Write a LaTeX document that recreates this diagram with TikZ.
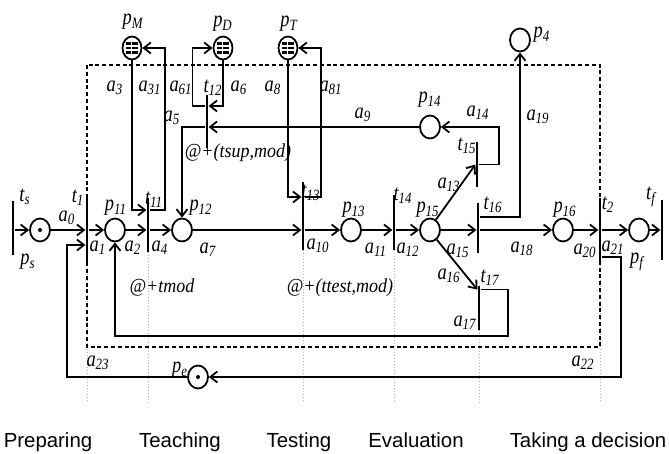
\documentclass[tikz,border=0pt]{standalone}
\usepackage{fontspec}
\setmainfont{Liberation Serif}
\newfontfamily\phasefont{Liberation Sans}
\usepackage{tikz}
\usetikzlibrary{arrows.meta,calc,positioning,shapes.geometric}
\newcommand{\nm}[2]{\scalebox{0.92}[1.12]{#1\textsubscript{#2}}}
\tikzset{
  place/.style={draw, line width=0.9pt, ellipse, minimum width=10pt, minimum height=11.5pt, inner sep=0pt},
  token/.style={place, path picture={\fill (path picture bounding box.center) circle (1pt);}},
  res/.style={place, minimum width=9.5pt, path picture={
      \foreach \dy in {-2.3pt,0pt,2.3pt}
        \draw[line width=1.2pt, dash pattern=on 2.6pt off 0.5pt]
          ([xshift=-2.9pt,yshift=\dy]path picture bounding box.center) -- ++(5.8pt,0);}},
  trans/.style={fill=black, inner sep=0pt, minimum width=1.2pt, minimum height=#1},
  arc/.style={line width=0.9pt, -{Straight Barb[length=3.5pt,width=5.5pt,line width=0.9pt]}},
  lab/.style={font=\fontsize{10}{11}\selectfont\itshape, inner sep=0.5pt},
  delay/.style={font=\fontsize{9}{10}\selectfont\itshape, inner sep=0.5pt, yscale=1.1},
  phase/.style={font=\phasefont\fontsize{10.2}{12}\selectfont, anchor=base, inner sep=0pt},
  guide/.style={gray!60, densely dotted, line width=0.5pt},
}

\begin{document}
\begin{tikzpicture}[x=0.5pt, y=-0.5pt]
    \useasboundingbox (0,0) rectangle (669,454);

    % Transitions
    \node[trans=27pt]   (ts)  at (13,228) {};
    \node[trans=33.5pt] (t1)  at (87,228.5) {};
    \node[trans=27pt]   (t11) at (148,225) {};
    \node[trans=26.5pt] (t12) at (207,121.5) {};
    \node[trans=34pt]   (t13) at (303,216) {};
    \node[trans=27.5pt] (t14) at (394,222.5) {};
    \node[trans=22.5pt] (t15) at (477,164.5) {};
    \node[trans=25pt]   (t16) at (478,228) {};
    \node[trans=22pt]   (t17) at (479,308) {};
    \node[trans=32pt]   (t2)  at (600,230) {};
    \node[trans=30pt]   (tf)  at (662,230) {};

    % Places
    \node[token] (ps)  at (40,230) {};
    \node[place] (p11) at (115,230) {};
    \node[place] (p12) at (182,230) {};
    \node[place] (p13) at (351,230) {};
    \node[place] (p15) at (430,230) {};
    \node[place] (p16) at (563,230) {};
    \node[place] (pf)  at (639,230) {};
    \node[place] (p14) at (430,127) {};
    \node[place] (p4)  at (520,40) {};
    \node[token] (pe)  at (198,377) {};
    \node[res]   (pM)  at (132,48) {};
    \node[res]   (pD)  at (223,48) {};
    \node[res]   (pT)  at (288,48) {};

    % Phase guides and module border
    \coordinate (base) at (0,403);
    \foreach \t in {t1,t11,t13,t14,t17,t2}
        \draw[guide] (\t.south) -- (\t.south |- base);
    \draw[dash pattern=on 2pt off 1.4pt, line width=0.8pt] (87,65) rectangle (600,347);

    % Main flow
    \draw[arc] (ps -| ts.east) -- (ps.west);
    \draw[arc] (ps.east) -- (ps -| t1.west);
    \draw[arc] (p11 -| t1.east) -- (p11.west);
    \draw[arc] (p11.east) -- (p11 -| t11.west);
    \draw[arc] (p12 -| t11.east) -- (p12.west);
    \draw[arc] (p12.east) -- (p12 -| t13.west);
    \draw[arc] (p13 -| t13.east) -- (p13.west);
    \draw[arc] (p13.east) -- (p13 -| t14.west);
    \draw[arc] (p15 -| t14.east) -- (p15.west);
    \draw[arc] (p15.east) -- (p15 -| t16.west);
    \draw[arc] (p16 -| t16.east) -- (p16.west);
    \draw[arc] (p16.east) -- (p16 -| t2.west);
    \draw[arc] (pf -| t2.east) -- (pf.west);
    \draw[arc] (pf.east) -- (pf -| tf.west);

    % Resource loops
    \draw[arc] (pM.south) |- ([yshift=7.5pt]t11.west);
    \draw[arc] ([yshift=7.5pt]t11.east) -- ++(7.5pt,0) |- (pM.east);
    \draw[arc] (pD.south) |- ([yshift=7.75pt]t12.east);
    \draw[arc] ([yshift=7.75pt]t12.west) -- ++(-6.5pt,0) |- (pD.west);
    \draw[arc] (pT.south) |- ([yshift=9.5pt]t13.west);
    \draw[arc] ([yshift=9.5pt]t13.east) -- ++(8pt,0) |- (pT.east);

    % Support and evaluation branches
    \draw[arc] (p14.west) -- (p14 -| t12.east);
    \draw[arc] (p14 -| t12.west) -| (p12.north);
    \draw[arc] (p15.60) -- (t15.west);
    \draw[arc] (t15.east) -- ++(10pt,0) |- (p14.east);
    \draw[arc] ([yshift=5.5pt]t16.east) -| (p4.south);
    \draw[arc] (p15.-55) -- ([yshift=-2pt]t17.north west);
    \draw[arc] ([yshift=-2pt]t17.north east) -- ++(13.5pt,0) -- ++(0,-23pt) -| (p11.south);

    % Restart loop
    \draw[arc] ([yshift=-13.5pt]t2.east) -- ++(9.5pt,0) |- (pe.east);
    \draw[arc] (pe.west) -- ++(-60pt,0) |- ([yshift=-8.25pt]t1.west);

    % Labels
    \node[lab] (lts)  at (25,197)  {\nm{t}{s}};
    \node[lab] (lps)  at (28,262)  {\nm{p}{s}};
    \node[lab] (la0)  at (67,218)  {\nm{a}{0}};
    \node[lab] (lt1)  at (78,198)  {\nm{t}{1}};
    \node[lab] (la1)  at (98,248)  {\nm{a}{1}};
    \node[lab] (lp11) at (116,208) {\nm{p}{11}};
    \node[lab] (la2)  at (133,248) {\nm{a}{2}};
    \node[lab] (lt11) at (154,200) {\nm{t}{11}};
    \node[lab] (la4)  at (160,248) {\nm{a}{4}};
    \node[lab] (lp12) at (201,208) {\nm{p}{12}};
    \node[lab] (la7)  at (208,250) {\nm{a}{7}};
    \node[lab] (lpM)  at (133,22)  {\nm{p}{M}};
    \node[lab] (la3)  at (115,88)  {\nm{a}{3}};
    \node[lab] (la31) at (150,88)  {\nm{a}{31}};
    \node[lab] (la61) at (181,88)  {\nm{a}{61}};
    \node[lab] (lt12) at (213,88)  {\nm{t}{12}};
    \node[lab] (la6)  at (239,88)  {\nm{a}{6}};
    \node[lab] (lpD)  at (223,24)  {\nm{p}{D}};
    \node[lab] (la5)  at (172,118) {\nm{a}{5}};
    \node[delay] (lsup) at (238,153) {@+(tsup,mod)};
    \node[lab] (lpT)  at (289,24)  {\nm{p}{T}};
    \node[lab] (la8)  at (273,88)  {\nm{a}{8}};
    \node[lab] (la81) at (331,88)  {\nm{a}{81}};
    \node[lab] (la9)  at (363,115) {\nm{a}{9}};
    \node[lab] (lt13) at (311,193) {\nm{t}{13}};
    \node[lab] (la10) at (318,246) {\nm{a}{10}};
    \node[lab] (lp13) at (354,210) {\nm{p}{13}};
    \node[lab] (la11) at (376,250) {\nm{a}{11}};
    \node[lab] (lt14) at (403,196) {\nm{t}{14}};
    \node[lab] (la12) at (408,250) {\nm{a}{12}};
    \node[lab] (lp15) at (428,210) {\nm{p}{15}};
    \node[lab] (lp14) at (430,100) {\nm{p}{14}};
    \node[lab] (la14) at (478,113) {\nm{a}{14}};
    \node[lab] (lt15) at (467,146) {\nm{t}{15}};
    \node[lab] (la13) at (449,185) {\nm{a}{13}};
    \node[lab] (lt16) at (493,205) {\nm{t}{16}};
    \node[lab] (la15) at (458,251) {\nm{a}{15}};
    \node[lab] (la19) at (538,117) {\nm{a}{19}};
    \node[lab] (lp4)  at (542,35)  {\nm{p}{4}};
    \node[lab] (la18) at (522,249) {\nm{a}{18}};
    \node[lab] (lp16) at (565,210) {\nm{p}{16}};
    \node[lab] (lt2)  at (608,205) {\nm{t}{2}};
    \node[lab] (la20) at (585,251) {\nm{a}{20}};
    \node[lab] (la21) at (613,248) {\nm{a}{21}};
    \node[lab] (lpf)  at (637,262) {\nm{p}{f}};
    \node[lab] (ltf)  at (651,197) {\nm{t}{f}};
    \node[lab] (la16) at (449,276) {\nm{a}{16}};
    \node[lab] (lt17) at (490,278) {\nm{t}{17}};
    \node[lab] (la17) at (465,323) {\nm{a}{17}};
    \node[delay] (lmod) at (162,288) {@+tmod};
    \node[delay] (ltst) at (340,288) {@+(ttest,mod)};
    \node[lab] (lpe)  at (180,370) {\nm{p}{e}};
    \node[lab] (la23) at (98,363)  {\nm{a}{23}};
    \node[lab] (la22) at (583,363) {\nm{a}{22}};

    % Phases
    \node[phase] (ph1) at (48,447)  {Preparing};
    \node[phase] (ph2) at (180,447) {Teaching};
    \node[phase] (ph3) at (299,447) {Testing};
    \node[phase] (ph4) at (416,447) {Evaluation};
    \node[phase] (ph5) at (588,447) {Taking a decision};

\end{tikzpicture}
\end{document}
